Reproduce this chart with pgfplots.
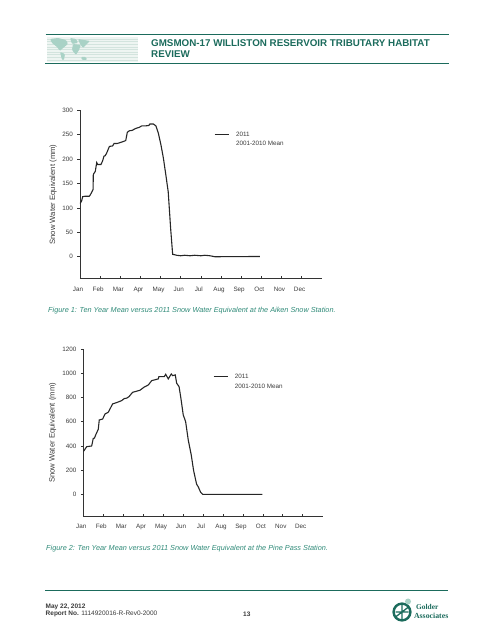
\documentclass[border=0pt]{standalone}
\usepackage{fontspec}
\setmainfont{Liberation Sans}
\newfontfamily\serifbf{Liberation Serif}[Scale=1]
\usepackage{pgfplots}
\pgfplotsset{compat=1.18}
\definecolor{golder}{HTML}{1B6B5C}
\definecolor{capt}{HTML}{2F8A78}
\definecolor{mapbg}{HTML}{EEF5F2}
\definecolor{mapst}{HTML}{D3E4DE}
\definecolor{mapland}{HTML}{A9D2C6}
\definecolor{axc}{HTML}{333333}
\definecolor{txt}{HTML}{3A3A3A}
\pgfplotsset{
  snow/.style={
    scale only axis, axis x line=bottom, axis y line=left, axis line style={-,axc,line width=0.8pt},
    xmin=0,xmax=12,
    xtick={0,...,11},
    xticklabels={Jan,Feb,Mar,Apr,May,Jun,Jul,Aug,Sep,Oct,Nov,Dec},
    xtick align=inside, ytick align=outside,
    tick style={axc,line width=0.7pt},
    major tick length=2.5pt,
    minor tick num=0,
    tick label style={font=\fontsize{6.3}{7}\selectfont,text=txt},
    xticklabel style={xshift=-2pt,yshift=-4.5pt},
    yticklabel style={xshift=-1pt},
    /pgf/number format/assume math mode=true,
    /pgf/number format/1000 sep={},
    scaled y ticks=false,
    ylabel={Snow Water Equivalent (mm)},
    every axis y label/.style={rotate=90,anchor=center,font=\fontsize{7.7}{9}\selectfont,text=txt},
    legend cell align=left,
    legend style={draw=none,fill=none,font=\fontsize{6.3}{8}\selectfont,text=txt,
      inner sep=0pt,outer sep=0pt,row sep=0pt,anchor=north west,
      /tikz/every even column/.style={column sep=0pt}},
    legend image code/.code={\draw[#1] (0pt,0pt)--(14.8pt,0pt);},
  }
}
\pgfplotstableread{
m v
0 109
0.08 114
0.13 123
0.25 124
0.46 124
0.5 126
0.58 132
0.65 138
0.66 167
0.68 170
0.76 175
0.83 193
0.88 189
1.04 189
1.12 196
1.19 206
1.25 207
1.32 212
1.46 226
1.62 227
1.69 232
1.85 232
2.0 234
2.15 236
2.27 238
2.35 255
2.45 258
2.6 259
2.68 261
2.78 263
2.94 265
3.06 268
3.25 268
3.42 269
3.47 272
3.64 272
3.77 268
3.89 253
4.02 229
4.14 202
4.25 171
4.38 133
4.5 58
4.6 5
4.8 3
5.0 2
5.2 3
5.46 2
5.7 3
6.0 2
6.2 3
6.45 2
6.7 0
8.93 0.5
}\aiken
\pgfplotstableread{
m v
0 353
0.08 372
0.17 394
0.42 400
0.5 463
0.56 465
0.62 491
0.75 538
0.8 615
0.97 623
1.09 665
1.25 679
1.47 748
1.67 759
1.92 775
2.05 792
2.18 796
2.29 808
2.47 844
2.84 861
3.04 886
3.26 905
3.43 941
3.76 955
3.79 974
4.06 974
4.13 993
4.26 955
4.41 996
4.48 982
4.61 988
4.68 919
4.8 891
4.88 808
5.01 657
5.13 601
5.26 450
5.41 326
5.53 196
5.68 83
5.76 63
5.88 17
5.98 0
6.5 0
8.97 0
}\pine
\begin{document}
\begin{tikzpicture}[x=1pt,y=1pt]
\path[use as bounding box] (0,0) rectangle (495,640);
% header
\fill[mapbg] (47,578) rectangle (138,603);
\foreach \y in {580,582.6,585.2,587.8,590.4,593,595.6,598.2,600.8}
  \draw[mapst,line width=0.6pt] (47,\y)--(138,\y);
\fill[mapland,rounded corners=1pt] (50,601)--(58,602)--(66,600)--(68,596)--(63,592)--(60,589)--(57,593)--(52,597)--cycle;
\fill[mapland,rounded corners=1pt] (60,588)--(65,586)--(64,580)--(62,580)--cycle;
\fill[mapland,rounded corners=1pt] (70,602)--(76,601)--(78,597)--(72,596)--cycle;
\fill[mapland,rounded corners=1pt] (73,596)--(81,595)--(79,590)--(76,585)--(72,590)--cycle;
\fill[mapland,rounded corners=1pt] (78,601)--(90,599)--(87,596)--(83,592)--(80,596)--cycle;
\fill[mapland,rounded corners=1pt] (81,583)--(86,583)--(87,580)--(82,580)--cycle;
\draw[golder,line width=0.9pt] (45.5,605.8)--(449,605.8);
\draw[golder,line width=0.9pt] (45,576.8)--(449,576.8);
\node[anchor=west,inner sep=0pt,text=golder,font=\fontsize{9.8}{11}\selectfont\bfseries] at (151,596.6) {GMSMON-17 WILLISTON RESERVOIR TRIBUTARY HABITAT};
\node[anchor=west,inner sep=0pt,text=golder,font=\fontsize{9.8}{11}\selectfont\bfseries] at (151,585.4) {REVIEW};
% chart 1
\begin{axis}[snow,at={(80pt,361.3pt)},anchor=south west,width=241.7pt,height=168.4pt,
  ymin=-45,ymax=300,ytick={0,50,100,150,200,250,300},
  every axis y label/.append style={at={(axis description cs:-0.111,0.5)}},
  legend style={at={(axis description cs:0.555,0.885)}}]
\addplot[color=black!85,line width=1.1pt] table[x=m,y=v] {\aiken};
\addlegendentry{\hspace{4pt}2011}
\addlegendimage{white,line width=0pt}
\addlegendentry{\hspace{4pt}2001-2010 Mean}
\end{axis}
% chart 2
\begin{axis}[snow,at={(83.3pt,123.7pt)},anchor=south west,width=239.4pt,height=167pt,
  ymin=-182,ymax=1200,ytick={0,200,400,600,800,1000,1200},
  every axis y label/.append style={at={(axis description cs:-0.128,0.5)}},
  legend style={at={(axis description cs:0.542,0.865)}}]
\addplot[color=black!85,line width=1.1pt] table[x=m,y=v] {\pine};
\addlegendentry{\hspace{4pt}2011}
\addlegendimage{white,line width=0pt}
\addlegendentry{\hspace{4pt}2001-2010 Mean}
\end{axis}
% captions
\node[anchor=west,inner sep=0pt,text=capt,font=\fontsize{7.3}{9}\selectfont\itshape] at (48,329) {Figure 1: Ten Year Mean versus 2011 Snow Water Equivalent at the Aiken Snow Station.};
\node[anchor=west,inner sep=0pt,text=capt,font=\fontsize{7.3}{9}\selectfont\itshape] at (46,91.7) {Figure 2: Ten Year Mean versus 2011 Snow Water Equivalent at the Pine Pass Station.};
% footer
\draw[golder,line width=0.9pt] (45,49.5)--(448,49.5);
\node[anchor=west,inner sep=0pt,text=txt,font=\fontsize{6.5}{8}\selectfont\bfseries] at (45.5,33.3) {May 22, 2012};
\node[anchor=west,inner sep=0pt,text=txt,font=\fontsize{6.5}{8}\selectfont] at (45.5,26) {\textbf{Report No.} 1114920016-R-Rev0-2000};
\node[anchor=west,inner sep=0pt,text=txt,font=\fontsize{6.5}{8}\selectfont\bfseries] at (243,26) {13};
% logo
\draw[golder,line width=2.4pt] (402,28) circle (8.4);
\draw[golder,line width=1.3pt] (395.5,23)--(408.5,33) (402,20.5)--(402,35.5) (395.5,28)--(408.5,28);
\fill[mapland] (408,38.5) circle (3);
\node[anchor=west,inner sep=0pt,text=golder,font=\serifbf\fontsize{7.4}{9}\selectfont\bfseries] at (416,33) {Golder};
\node[anchor=east,inner sep=0pt,text=golder,font=\serifbf\fontsize{7.8}{9}\selectfont\bfseries] at (448.5,24.5) {Associates};
\end{tikzpicture}
\end{document}
